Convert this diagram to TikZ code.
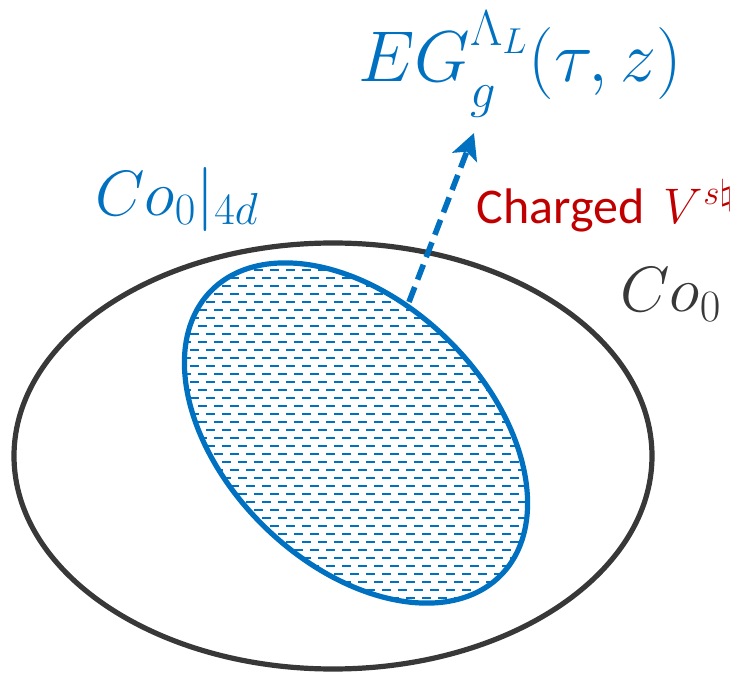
\RequirePackage{fix-cm}
\documentclass[tikz,border=0pt]{standalone}
\usepackage{fontspec}
\newfontfamily\calibfont{Carlito}
\usetikzlibrary{arrows.meta}
\definecolor{setblue}{HTML}{0070C0}
\definecolor{setgray}{HTML}{383838}
\definecolor{chargered}{HTML}{C00000}
\tikzset{
  lbl/.style={anchor=base west, inner sep=0pt},
  rim/.style={line width=2.6pt},
}
\begin{document}
\begin{tikzpicture}[x=0.5pt,y=-0.5pt]
\useasboundingbox (0,0) rectangle (736,680);
\draw[rim, setgray] (333,456) ellipse [x radius=319, y radius=213];
\begin{scope}
\clip[rotate around={-44.4:(356,433)}] (356,433) ellipse [x radius=203, y radius=131];
\foreach \r [evaluate=\r as \ry using 262+8*\r, evaluate=\r as \ph using {4*mod(\r,2)}] in {0,...,43}
  \draw[setblue, line width=1pt, dash pattern=on 4.5pt off 3.5pt, dash phase=\ph pt] (150,\ry) -- (560,\ry);
\end{scope}
\draw[rim, setblue, rotate around={-44.4:(356,433)}] (356,433) ellipse [x radius=203, y radius=131];
\coordinate (from) at (409,302);
\coordinate (to) at (474,133);
\draw[setblue, line width=2.8pt, dash pattern=on 8pt off 4pt, -{Stealth[length=13pt, width=13pt, inset=3pt]}] (from) -- (to);
\node[lbl, text=setblue, font=\fontsize{36}{40}\selectfont] (eg) at (358,82)
  {$EG_{\raisebox{-4pt}{$\scriptstyle g$}}^{\raisebox{5pt}{$\scriptstyle\Lambda_L$}}(\tau,z)$};
\node[lbl, text=setblue, font=\fontsize{32}{36}\selectfont] (sub) at (95,215) {$Co_0|_{4d}$};
\node[lbl, text=setgray, font=\fontsize{32}{36}\selectfont] (whole) at (620,312) {$Co_0$};
\node[lbl, text=chargered, font=\calibfont\fontsize{25}{28}\selectfont] (chg) at (476,223) {Charged \,$V^{s\natural}$};
\end{tikzpicture}
\end{document}
